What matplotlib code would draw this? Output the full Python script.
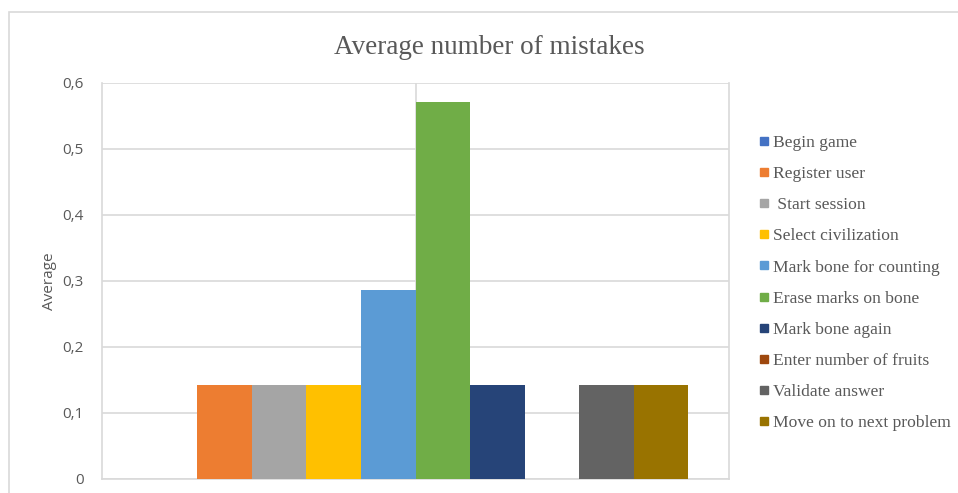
import numpy as np
import matplotlib.pyplot as plt
import matplotlib.patches as patches
from matplotlib.lines import Line2D

# steps and their average number of mistakes
steps = ['Begin game', 'Register user', ' Start session', 'Select civilization',
         'Mark bone for counting', 'Erase marks on bone', 'Mark bone again',
         'Enter number of fruits', 'Validate answer', 'Move on to next problem']
averages = [0, 1/7, 1/7, 1/7, 2/7, 4/7, 1/7, 0, 1/7, 1/7]
colors = ['#4472C4', '#ED7D31', '#A5A5A5', '#FFC000', '#5B9BD5',
          '#70AD47', '#264478', '#9E480E', '#636363', '#997300']
yticks = [0, 0.1, 0.2, 0.3, 0.4, 0.5, 0.6]
ytick_labels = ['0', '0,1', '0,2', '0,3', '0,4', '0,5', '0,6']

text_color = '#595959'
grid_color = '#D9D9D9'

fig = plt.figure(figsize=(9.58, 4.93), dpi=100, facecolor='white')
W, H = 958, 493

# outer chart border (cut off on the right and bottom)
fig.add_artist(patches.Rectangle((9 / W, -0.1), 1.2, 1 - 12 / H + 0.1,
                                 transform=fig.transFigure, fill=False,
                                 edgecolor=grid_color, linewidth=1.2))

ax = fig.add_axes([102 / W, 14 / H, 627 / W, 396 / H])
x = np.arange(len(steps))
ax.bar(x, averages, width=1.0, color=colors, zorder=3)

ax.set_xlim(4.5 - 5.75, 4.5 + 5.75)
ax.set_ylim(0, 0.6)
ax.set_yticks(yticks)
ax.set_yticklabels(ytick_labels, fontfamily='Open Sans', fontsize=11, color=text_color)
ax.set_xticks([])
ax.tick_params(axis='y', length=0, pad=13)
ax.yaxis.grid(True, color=grid_color, linewidth=1.2, zorder=0)
ax.axvline(4.5, color=grid_color, linewidth=1.2, zorder=0)
for side in ['top', 'right', 'bottom', 'left']:
    ax.spines[side].set_color(grid_color)
    ax.spines[side].set_linewidth(1.2)
ax.spines['top'].set_visible(False)

ax.set_ylabel('Average', fontfamily='Open Sans', fontsize=11, color=text_color, labelpad=4)

fig.text(489 / W, 1 - 47 / H, 'Average number of mistakes', ha='center', va='center',
         fontfamily='Liberation Serif', fontsize=19.5, color=text_color)

handles = [Line2D([], [], marker='s', linestyle='none', markersize=5.5,
                  markerfacecolor=c, markeredgecolor=c) for c in colors]
leg = fig.legend(handles, steps, loc='upper left', bbox_to_anchor=(744 / W, 1 - 119 / H),
                 frameon=False, handlelength=0.5, handletextpad=0.25,
                 labelspacing=0.85, prop={'family': 'Liberation Serif', 'size': 12.6})
for t in leg.get_texts():
    t.set_color(text_color)

fig.savefig('out.png', dpi=100, facecolor='white')
